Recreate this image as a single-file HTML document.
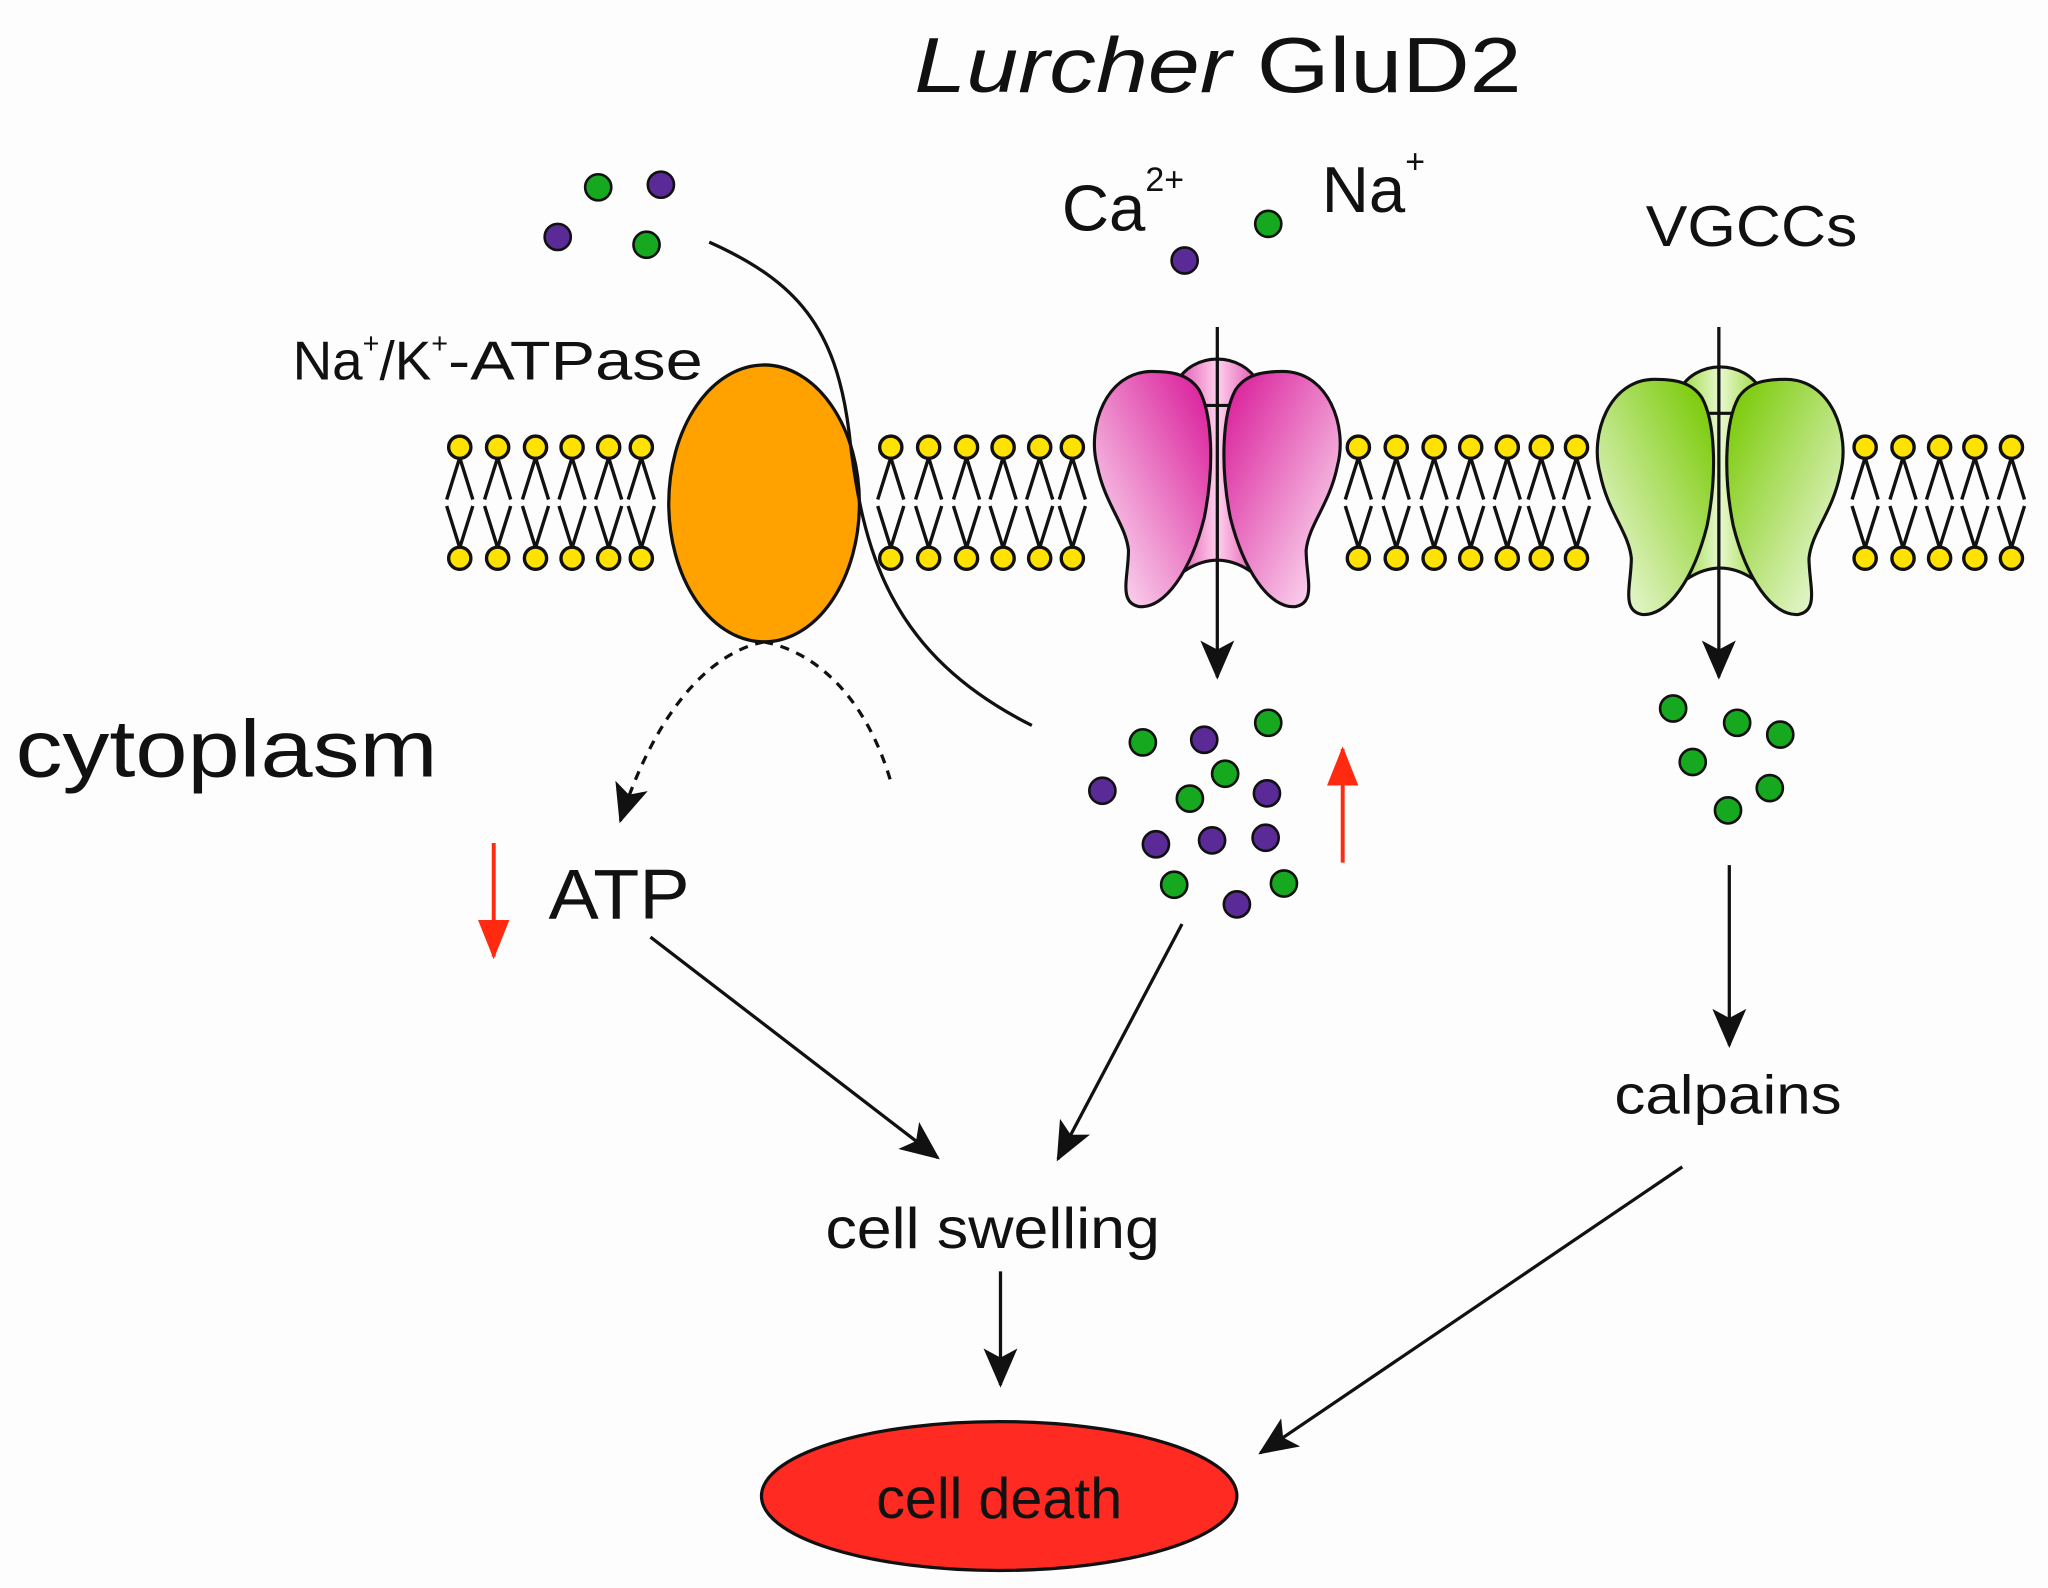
<!DOCTYPE html>
<html><head><meta charset="utf-8"><style>
html,body{margin:0;padding:0;background:#fdfdfd;}
svg{display:block;}
text{font-family:"Liberation Sans",Arial,sans-serif;fill:#111;}
</style></head><body>
<svg width="2048" height="1588" viewBox="0 0 1568 1215" xmlns="http://www.w3.org/2000/svg">
<defs>
<marker id="ah" markerWidth="30" markerHeight="26" refX="28" refY="13" orient="auto" markerUnits="userSpaceOnUse">
<path d="M0,0 L30,13 L0,26 L7,13 Z" fill="#111"/></marker>
<marker id="rh" markerWidth="30" markerHeight="24" refX="28" refY="12" orient="auto" markerUnits="userSpaceOnUse">
<path d="M0,0 L30,12 L0,24 Z" fill="#ff2a10"/></marker>
<g id="lip" stroke="#111" stroke-width="2.6" fill="#ffe200">
<path d="M0,8 L-10,40 M0,8 L10,40 M0,77 L-10,45 M0,77 L10,45" fill="none"/>
<circle cx="0" cy="0" r="8.5"/><circle cx="0" cy="85" r="8.5"/>
</g>
<linearGradient id="pkL" x1="0" y1="1" x2="1" y2="0"><stop offset="0" stop-color="#fff0fa"/><stop offset="0.9" stop-color="#dc2aa0"/></linearGradient>
<linearGradient id="gL" x1="0" y1="1" x2="1" y2="0"><stop offset="0" stop-color="#f8fdf0"/><stop offset="0.9" stop-color="#7fcc10"/></linearGradient>
<linearGradient id="gc" x1="0" y1="0" x2="1" y2="0"><stop offset="0" stop-color="#9ad83a"/><stop offset="0.5" stop-color="#e8f8d0"/><stop offset="1" stop-color="#9ad83a"/></linearGradient>
<linearGradient id="pc" x1="0" y1="0" x2="1" y2="0"><stop offset="0" stop-color="#e050b0"/><stop offset="0.5" stop-color="#ffd0ec"/><stop offset="1" stop-color="#e050b0"/></linearGradient>
<g id="chanC" stroke="#111" stroke-width="2.4">
<path d="M-32,-62 C-20,-88 20,-88 32,-62 L24,80 C8,70 -8,70 -24,80 Z"/>
<path d="M-34,-46 L34,-46" fill="none"/>
</g>
<g id="lobe" stroke="#111" stroke-width="2.4">
<path d="M-50,-72 C-85,-72 -100,-30 -92,0 C-86,30 -70,45 -68,65 C-68,85 -76,105 -60,108 C-40,110 -20,80 -10,40 C-2,0 -4,-40 -14,-58 C-22,-70 -35,-72 -50,-72 Z"/>
</g>
</defs>
<rect width="1568" height="1215" fill="#fdfdfd"/>

<text x="700" y="70" font-size="60" textLength="465" lengthAdjust="spacingAndGlyphs"><tspan font-style="italic">Lurcher</tspan> GluD2</text>
<text x="813" y="176" font-size="50">Ca<tspan font-size="26" dy="-30">2+</tspan></text>
<text x="1012" y="162" font-size="50">Na<tspan font-size="26" dy="-30">+</tspan></text>
<text x="1260" y="188" font-size="44" textLength="162" lengthAdjust="spacingAndGlyphs">VGCCs</text>
<text x="224" y="290" font-size="42">Na<tspan font-size="22" dy="-20">+</tspan><tspan dy="20">/K</tspan><tspan font-size="22" dy="-20">+</tspan><tspan dy="20" textLength="195" lengthAdjust="spacingAndGlyphs">-ATPase</tspan></text>
<text x="12" y="594" font-size="62" textLength="323" lengthAdjust="spacingAndGlyphs">cytoplasm</text>
<text x="420" y="703" font-size="54" textLength="108" lengthAdjust="spacingAndGlyphs">ATP</text>
<text x="1236" y="852" font-size="42" textLength="174" lengthAdjust="spacingAndGlyphs">calpains</text>
<text x="632" y="955" font-size="44" textLength="256" lengthAdjust="spacingAndGlyphs">cell swelling</text>

<g>
<use href="#lip" x="352" y="342"/><use href="#lip" x="381" y="342"/><use href="#lip" x="410" y="342"/><use href="#lip" x="438" y="342"/><use href="#lip" x="466" y="342"/><use href="#lip" x="491" y="342"/>
<use href="#lip" x="682" y="342"/><use href="#lip" x="711" y="342"/><use href="#lip" x="740" y="342"/><use href="#lip" x="768" y="342"/><use href="#lip" x="796" y="342"/><use href="#lip" x="821" y="342"/>
<use href="#lip" x="1040" y="342"/><use href="#lip" x="1069" y="342"/><use href="#lip" x="1098" y="342"/><use href="#lip" x="1126" y="342"/><use href="#lip" x="1154" y="342"/><use href="#lip" x="1180" y="342"/><use href="#lip" x="1207" y="342"/>
<use href="#lip" x="1428" y="342"/><use href="#lip" x="1457" y="342"/><use href="#lip" x="1485" y="342"/><use href="#lip" x="1512" y="342"/><use href="#lip" x="1540" y="342"/>
</g>

<ellipse cx="585" cy="385" rx="73" ry="106" fill="#ffa200" stroke="#111" stroke-width="2.5"/>
<path d="M543,185 C610,215 640,250 650,330 C660,420 680,500 790,555" fill="none" stroke="#111" stroke-width="2.5"/>
<path d="M585,491 C540,500 500,550 475,628" fill="none" stroke="#111" stroke-width="2.5" stroke-dasharray="7,6" marker-end="url(#ah)"/>
<path d="M585,491 C630,500 665,540 682,598" fill="none" stroke="#111" stroke-width="2.5" stroke-dasharray="7,6"/>

<g transform="translate(932,356)">
<use href="#chanC" fill="url(#pc)"/>
<use href="#lobe" fill="url(#pkL)"/>
<g transform="scale(-1,1)"><use href="#lobe" fill="url(#pkL)"/></g>
</g>
<g transform="translate(1317,362)">
<use href="#chanC" fill="url(#gc)"/>
<use href="#lobe" fill="url(#gL)"/>
<g transform="scale(-1,1)"><use href="#lobe" fill="url(#gL)"/></g>
</g>

<g stroke="#111" stroke-width="2.5" fill="none" marker-end="url(#ah)">
<line x1="932" y1="250" x2="932" y2="518"/>
<line x1="1316" y1="250" x2="1316" y2="518"/>
<line x1="1324" y1="662" x2="1324" y2="800"/>
<line x1="498" y1="717" x2="718" y2="886"/>
<line x1="905" y1="707" x2="810" y2="887"/>
<line x1="766" y1="973" x2="766" y2="1060"/>
<line x1="1288" y1="893" x2="965" y2="1112"/>
</g>
<g stroke="#ff2a10" stroke-width="3" marker-end="url(#rh)">
<line x1="378" y1="645" x2="378" y2="732"/>
<line x1="1028" y1="660" x2="1028" y2="573"/>
</g>

<g stroke="#111" stroke-width="2">
<g fill="#16a81e">
<circle cx="458" cy="143" r="10"/><circle cx="495" cy="187" r="10"/><circle cx="971" cy="171" r="10"/>
<circle cx="875" cy="568" r="10"/><circle cx="971" cy="553" r="10"/><circle cx="938" cy="592" r="10"/><circle cx="911" cy="611" r="10"/><circle cx="899" cy="677" r="10"/><circle cx="983" cy="676" r="10"/>
<circle cx="1281" cy="542" r="10"/><circle cx="1330" cy="553" r="10"/><circle cx="1363" cy="562" r="10"/><circle cx="1296" cy="583" r="10"/><circle cx="1355" cy="603" r="10"/><circle cx="1323" cy="620" r="10"/>
</g>
<g fill="#5a2a96">
<circle cx="506" cy="141" r="10"/><circle cx="427" cy="181" r="10"/><circle cx="907" cy="199" r="10"/>
<circle cx="922" cy="566" r="10"/><circle cx="844" cy="605" r="10"/><circle cx="970" cy="607" r="10"/><circle cx="885" cy="646" r="10"/><circle cx="928" cy="643" r="10"/><circle cx="969" cy="641" r="10"/><circle cx="947" cy="692" r="10"/>
</g>
</g>

<ellipse cx="765" cy="1145" rx="182" ry="57" fill="#ff2a22" stroke="#111" stroke-width="2.5"/>
<text x="765" y="1162" font-size="44" text-anchor="middle">cell death</text>
</svg>
</body></html>
